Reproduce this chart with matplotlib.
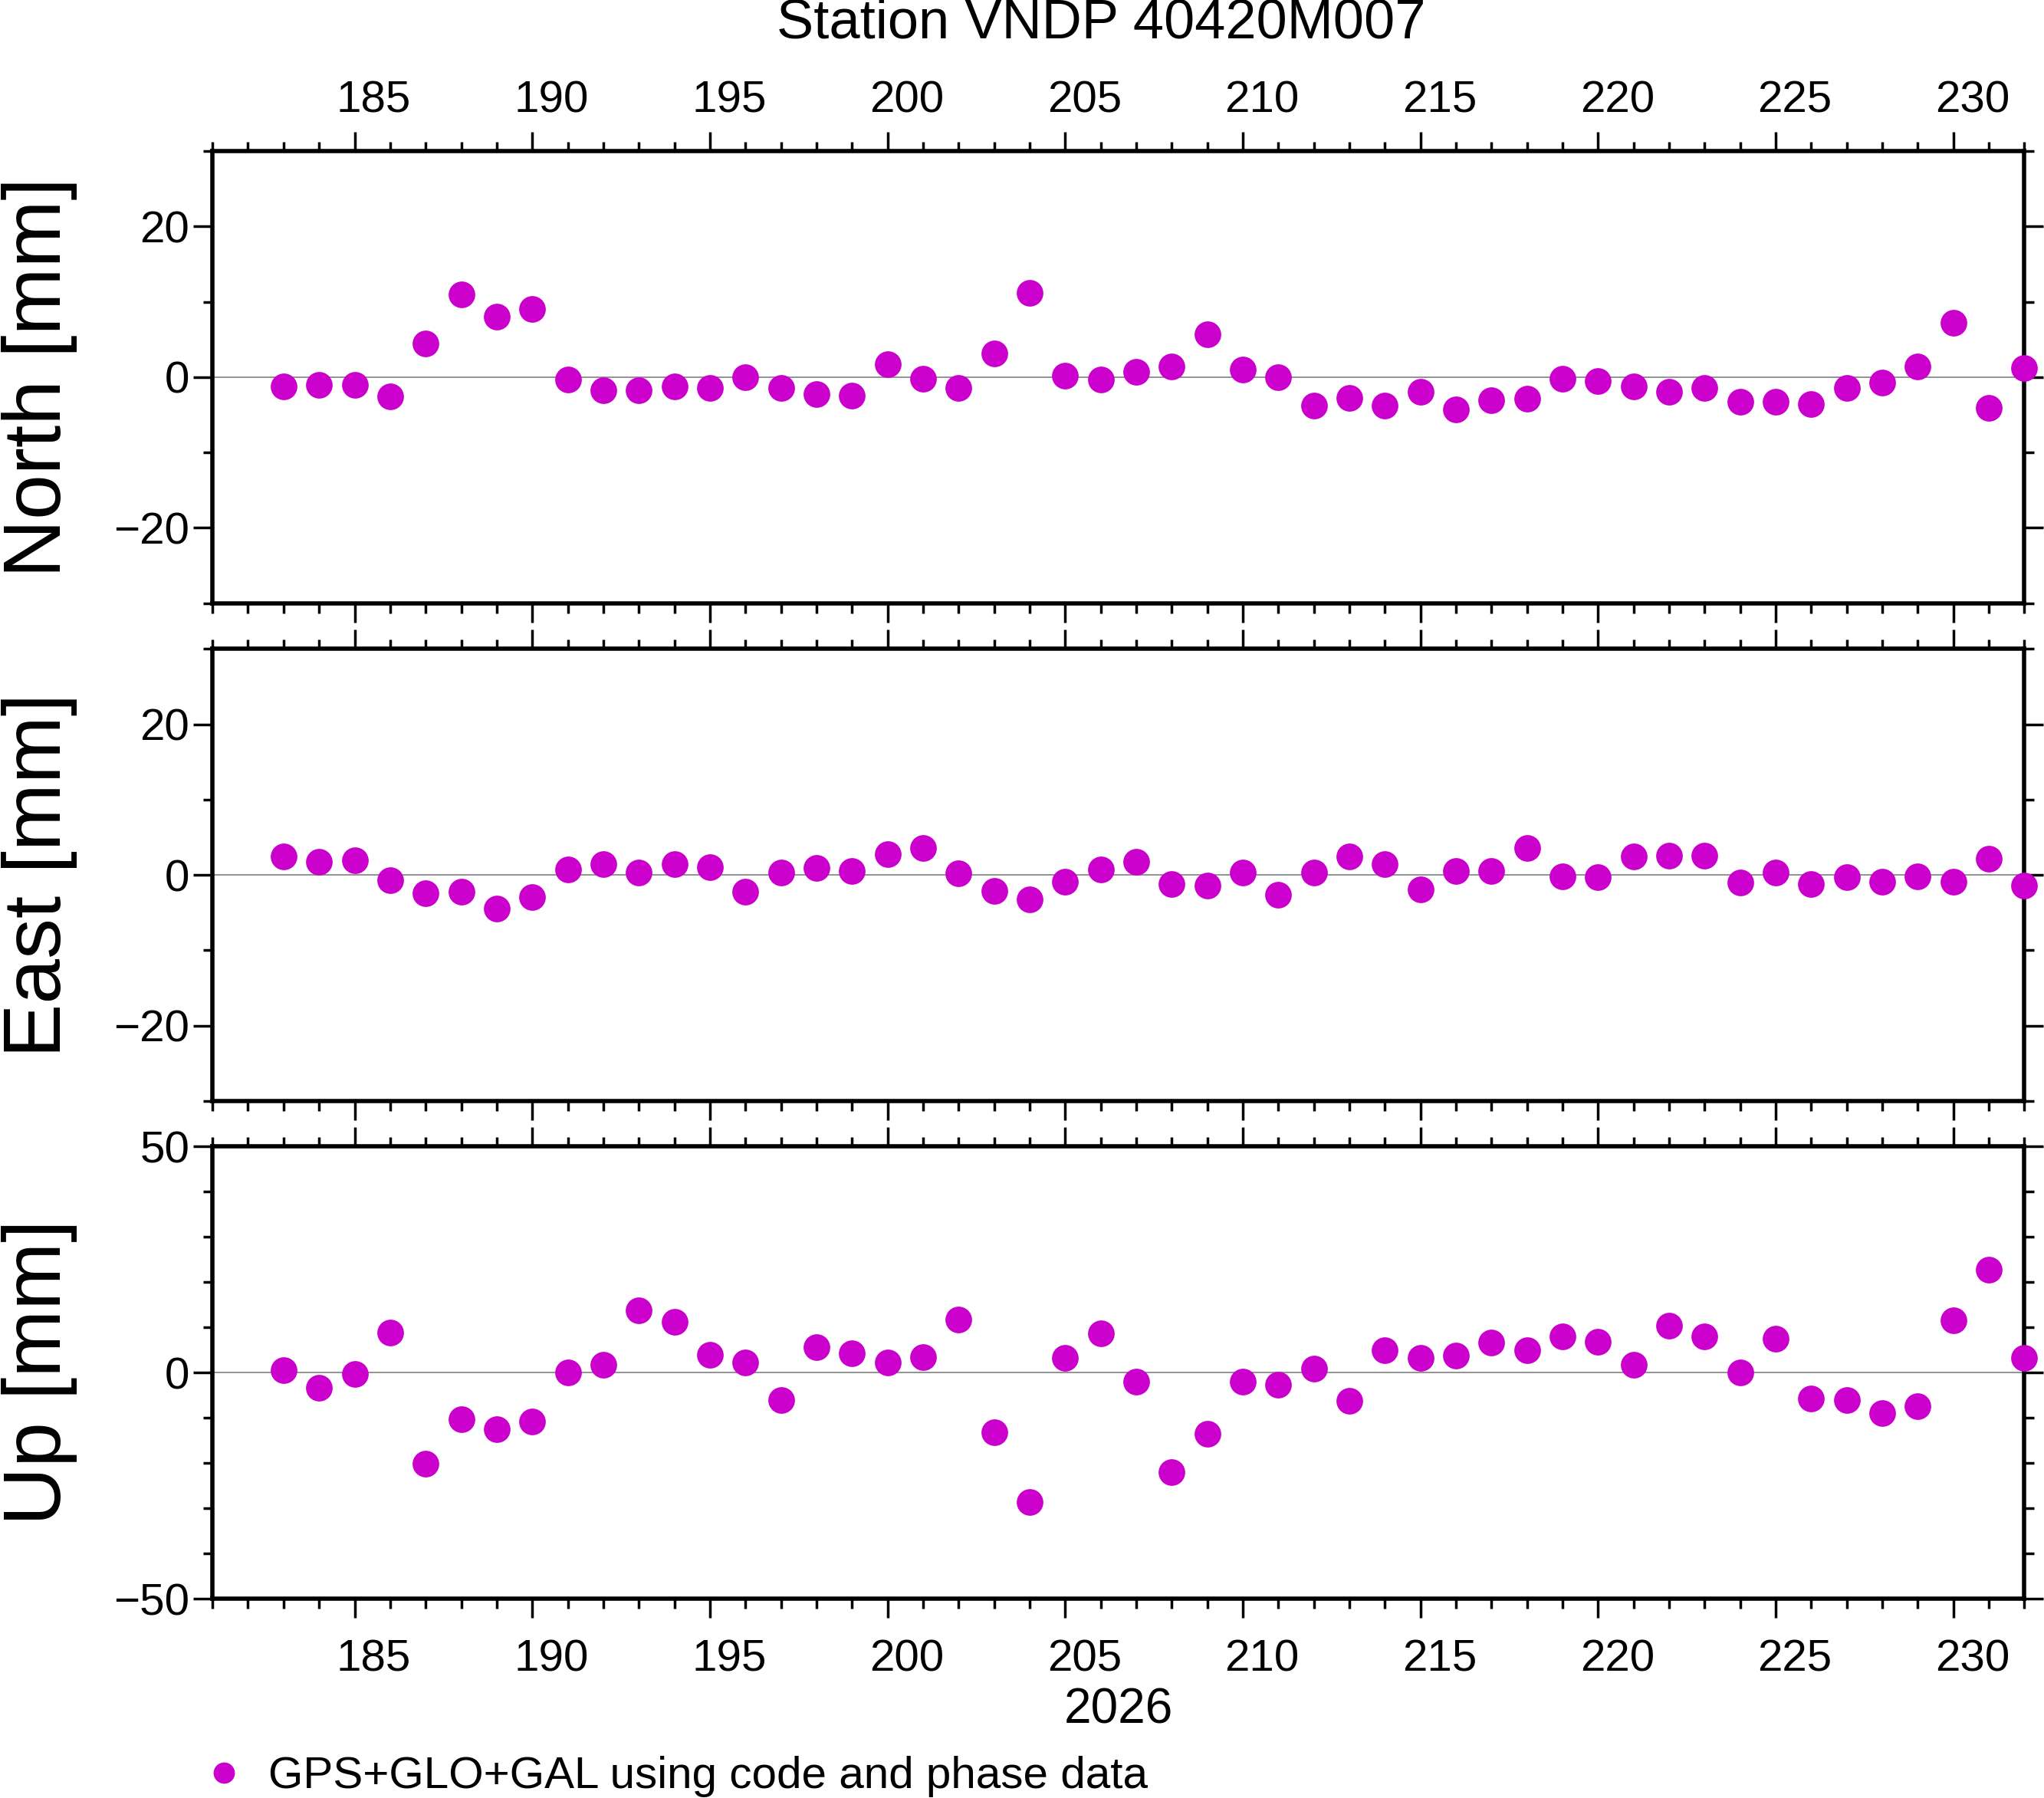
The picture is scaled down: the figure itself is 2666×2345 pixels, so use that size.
import matplotlib
matplotlib.use("Agg")
import matplotlib.pyplot as plt
from matplotlib.ticker import MultipleLocator
from matplotlib.transforms import ScaledTranslation

plt.rcParams['font.family'] = ['Liberation Sans', 'DejaVu Sans']

days = list(range(183, 233))
north = [-1.2,-1,-1,-2.6,4.5,11,8,9.1,-0.3,-1.7,-1.7,-1.2,-1.4,0,-1.4,-2.2,-2.4,1.7,-0.2,-1.4,3.1,11.2,0.2,-0.3,0.7,1.4,5.7,1,0,-3.8,-2.8,-3.8,-1.9,-4.3,-3.1,-2.9,-0.2,-0.5,-1.2,-1.9,-1.4,-3.3,-3.3,-3.6,-1.4,-0.7,1.4,7.2,-4.1,1.2]
east = [2.4,1.7,1.9,-0.7,-2.4,-2.2,-4.5,-2.9,0.7,1.4,0.3,1.4,1,-2.2,0.3,0.9,0.5,2.8,3.6,0.2,-2.1,-3.3,-0.9,0.7,1.7,-1.2,-1.4,0.3,-2.6,0.3,2.4,1.4,-1.9,0.5,0.5,3.6,-0.2,-0.3,2.4,2.6,2.6,-1,0.3,-1.2,-0.3,-0.9,-0.2,-0.9,2.1,-1.4]
up = [0.6,-3.4,-0.3,8.9,-20.1,-10.3,-12.6,-10.9,0,1.7,13.8,11.2,4,2.3,-6,5.7,4.3,2.3,3.4,11.8,-13.2,-28.7,3.2,8.6,-2,-22.1,-13.5,-2,-2.6,0.9,-6.3,4.9,3.2,3.7,6.6,4.9,8,6.9,1.7,10.3,8,0,7.5,-5.7,-6,-8.9,-7.5,11.5,22.7,3.2]

W, H = 2666, 2345
fig = plt.figure(figsize=(W/100, H/100), dpi=100)
color = '#cc00cc'
left, right = 163/1568, 1553/1568
panels = [(116, 463, north, 30, 20, 10, 'North [mm]'),
          (498, 845, east, 30, 20, 10, 'East [mm]'),
          (880, 1227, up, 50, 50, 10, 'Up [mm]')]
axes = []
shift = ScaledTranslation(0.25, 0, fig.dpi_scale_trans)
for i, (t, b, vals, lim, maj, mnr, lab) in enumerate(panels):
    ax = fig.add_axes([left, 1-b/1380, right-left, (b-t)/1380])
    ax.axhline(0, color='gray', lw=1.2, zorder=1)
    ax.plot(days, vals, 'o', color=color, ms=25, mec='none', zorder=3, clip_on=False,
            label='GPS+GLO+GAL using code and phase data')
    ax.set_xlim(181, 232)
    ax.set_ylim(-lim, lim)
    ax.xaxis.set_major_locator(MultipleLocator(5))
    ax.xaxis.set_minor_locator(MultipleLocator(1))
    ax.yaxis.set_major_locator(MultipleLocator(maj))
    ax.yaxis.set_minor_locator(MultipleLocator(mnr))
    ax.tick_params(which='both', direction='out', top=True, right=True, width=2.5)
    ax.tick_params(which='major', length=18, labelsize=42)
    ax.tick_params(which='minor', length=9)
    ax.tick_params(axis='x', labelbottom=(i == 2), labeltop=(i == 0))
    ax.tick_params(axis='x', which='major', pad=20 if i == 2 else 10)
    for lbl in ax.get_xticklabels(which='both'):
        lbl.set_transform(lbl.get_transform() + shift)
    for s in ax.spines.values():
        s.set_linewidth(4)
    ax.set_ylabel(lab, fontsize=76, labelpad=34)
    axes.append(ax)
fig.text(845/1568, 1-18/1380, 'Station VNDP 40420M007', fontsize=52, ha='center', va='center')
axes[2].set_xlabel('2026', fontsize=46, labelpad=6)
fig.legend(handles=axes[2].lines[1:2], loc='lower left', bbox_to_anchor=(0.068, -0.022),
           frameon=False, fontsize=42, handletextpad=0.0, markerscale=0.8)
fig.savefig('out.png', dpi=100)
